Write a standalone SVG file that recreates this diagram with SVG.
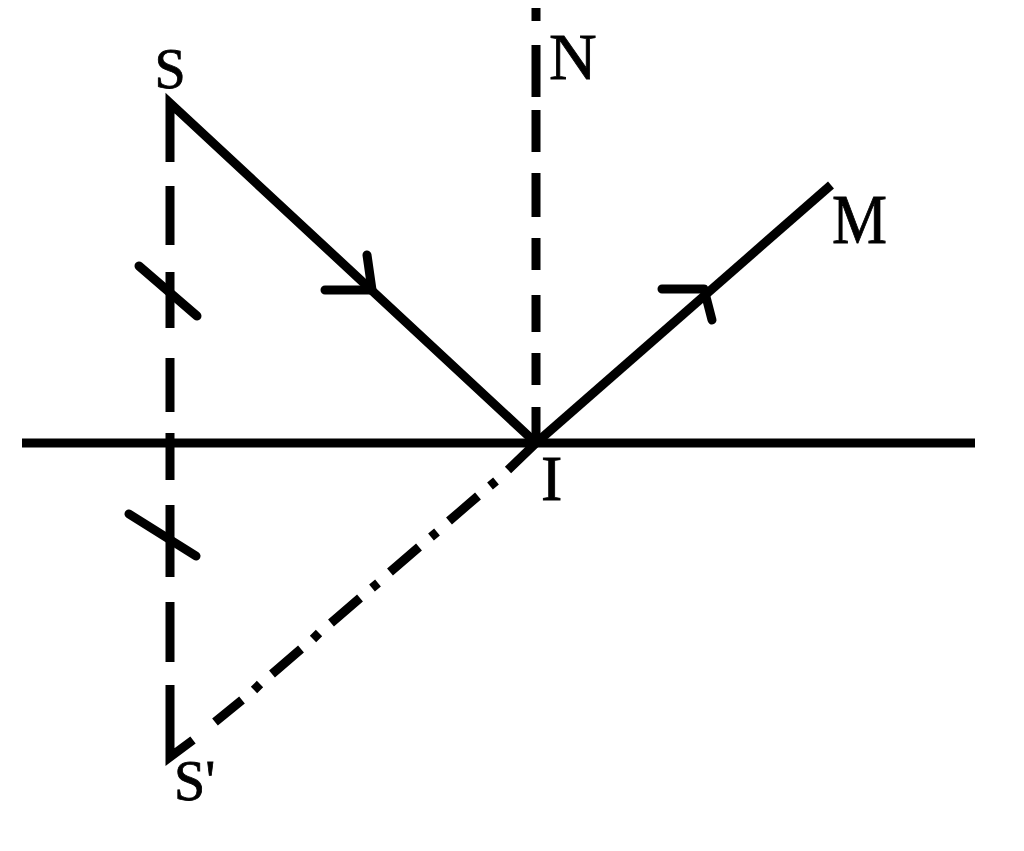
<svg xmlns="http://www.w3.org/2000/svg" width="1024" height="851" viewBox="0 0 1024 851">
<style>
.ln{stroke:#000;stroke-width:9;fill:none;stroke-linecap:butt;stroke-linejoin:miter}
.rd{stroke:#000;stroke-width:9;fill:none;stroke-linecap:round;stroke-linejoin:round}
.lbl{font-family:"Liberation Serif","DejaVu Serif",serif;fill:#000;stroke:#000;stroke-width:0.8}
</style>
<rect width="1024" height="851" fill="#fff"/>
<g id="connectors">
  <!-- mirror surface -->
  <line class="ln" x1="22" y1="443" x2="975" y2="443"/>
  <!-- normal N (dashed) -->
  <path class="ln" d="M536 8V21 M536 45V97 M536 110V152 M536 173V217 M536 238V270 M536 295V332 M536 353V385 M536 407V443"/>
  <!-- incident ray S to I -->
  <path class="ln" d="M170 162V103L536 443"/>
  <!-- reflected ray I to M -->
  <line class="ln" x1="536" y1="443" x2="831" y2="185"/>
  <!-- S to S' dashed perpendicular -->
  <path class="ln" d="M170 186V245 M170 272V328 M170 358V412 M170 433V480 M170 505V577 M170 602V662 M170 685V757L193 740"/>
  <!-- extension I to S' dash-dot -->
  <path class="ln" d="M536 443L508 470 M496 481L490 486 M478 496L449 521 M437 532L431 537 M419 547L390 572 M378 583L372 588 M360 598L331 623 M319 633L313 639 M301 649L272 674 M260 684L254 690 M242 700L215 722"/>
  <!-- arrowheads -->
  <path class="rd" d="M325 290H372L367 255"/>
  <path class="rd" d="M662 289H704L712 320"/>
  <!-- equal-length tick marks -->
  <line class="rd" x1="139" y1="266" x2="197" y2="316"/>
  <line class="rd" x1="129" y1="514" x2="196" y2="556"/>
</g>
<g id="node-S"><text class="lbl" x="170" y="88" font-size="56" text-anchor="middle">S</text></g>
<g id="node-N"><text class="lbl" x="549" y="79" font-size="66">N</text></g>
<g id="node-M"><text class="lbl" x="832" y="243" font-size="70" textLength="55" lengthAdjust="spacingAndGlyphs">M</text></g>
<g id="node-I"><text class="lbl" x="541" y="500" font-size="64">I</text></g>
<g id="node-S-prime"><text class="lbl" x="174" y="800" font-size="56">S'</text></g>
</svg>
